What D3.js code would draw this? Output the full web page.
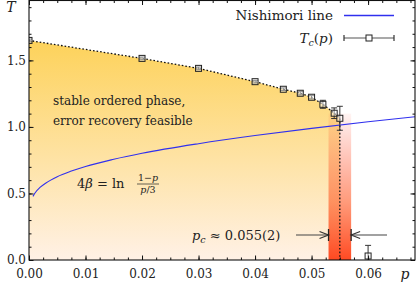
<!DOCTYPE html>
<html>
<head>
<meta charset="utf-8">
<script src="https://cdn.jsdelivr.net/npm/d3@7"></script>
<style>
  html, body { margin: 0; padding: 0; background: #fff; }
</style>
</head>
<body>
<svg id="chart" width="416" height="287"></svg>
<script>
// critical temperature T_c(p)
var pTc = [0, 0.02, 0.03, 0.04, 0.045, 0.048, 0.05, 0.052, 0.054, 0.055];
var Tc = [1.65, 1.515, 1.44, 1.34, 1.283, 1.253, 1.223, 1.17, 1.103, 1.065];
var TcErr = [0.01, 0.01, 0.01, 0.01, 0.01, 0.012, 0.012, 0.03, 0.04, 0.09];

// the lone point past p_c
var pOut = [0.06];
var TOut = [0.03];
var TOutErr = [0.08];

// Nishimori line samples
var pNish = [0.0007, 0.001, 0.002, 0.003, 0.005, 0.0075, 0.01, 0.015, 0.02, 0.03, 0.04, 0.05, 0.06, 0.0683];
var TNish = [0.478, 0.500, 0.547, 0.579, 0.626, 0.668, 0.703, 0.757, 0.802, 0.874, 0.935, 0.989, 1.039, 1.076];

// p_c band
var pcLow = 0.053, pc = 0.055, pcHigh = 0.057;

var xTicks = [0, 0.01, 0.02, 0.03, 0.04, 0.05, 0.06];
var yTicks = [0, 0.5, 1.0, 1.5];

var FONT = '"DejaVu Serif", serif';
var BLUE = '#3030ee';
var svg = d3.select('#chart');
var L = 29, R = 415, T0 = 0.5, B = 260;

var x = d3.scaleLinear().domain([0, 0.0683]).range([L, R]);
var y = d3.scaleLinear().domain([0, 1.95]).range([B, T0]);

var defs = svg.append('defs');
var gy = defs.append('linearGradient').attr('id', 'yel')
  .attr('gradientUnits', 'userSpaceOnUse')
  .attr('x1', 0).attr('y1', y(1.65)).attr('x2', 0).attr('y2', B);
gy.append('stop').attr('offset', 0).attr('stop-color', '#fdd25a');
gy.append('stop').attr('offset', 0.55).attr('stop-color', '#fee3a6');
gy.append('stop').attr('offset', 1).attr('stop-color', '#fff1e6');

var gr = defs.append('linearGradient').attr('id', 'red')
  .attr('gradientUnits', 'userSpaceOnUse')
  .attr('x1', 0).attr('y1', y(1.1)).attr('x2', 0).attr('y2', B);
gr.append('stop').attr('offset', 0).attr('stop-color', '#ff2a10').attr('stop-opacity', 0.05);
gr.append('stop').attr('offset', 0.6).attr('stop-color', '#ff4a10').attr('stop-opacity', 0.55);
gr.append('stop').attr('offset', 1).attr('stop-color', '#ff3a10').attr('stop-opacity', 0.92);

var clip = defs.append('clipPath').attr('id', 'plotclip');
clip.append('rect').attr('x', L).attr('y', T0).attr('width', R - L).attr('height', B - T0);

var plot = svg.append('g').attr('clip-path', 'url(#plotclip)');

// ordered phase area
var tcData = pTc.map(function(p, i) { return {p: p, t: Tc[i], e: TcErr[i]}; });
var area = d3.area()
  .x(function(d) { return x(d.p); })
  .y0(y(0))
  .y1(function(d) { return y(d.t); });
plot.append('path').datum(tcData).attr('d', area).attr('fill', 'url(#yel)');

// p_c band
plot.append('rect')
  .attr('x', x(pcLow)).attr('width', x(pcHigh) - x(pcLow))
  .attr('y', y(1.1)).attr('height', y(0) - y(1.1))
  .attr('fill', 'url(#red)');

// Nishimori line
var nish = pNish.map(function(p, i) { return {p: p, t: TNish[i]}; });
plot.append('path').datum(nish)
  .attr('d', d3.line().x(function(d) { return x(d.p); }).y(function(d) { return y(d.t); }).curve(d3.curveMonotoneX))
  .attr('fill', 'none').attr('stroke', BLUE).attr('stroke-width', 1.1);

// dotted boundary
var bound = tcData.concat([{p: pc, t: 0}]);
plot.append('path').datum(bound)
  .attr('d', d3.line().x(function(d) { return x(d.p); }).y(function(d) { return y(d.t); }))
  .attr('fill', 'none').attr('stroke', '#111').attr('stroke-width', 1.3)
  .attr('stroke-dasharray', '1.6,2');

// error bars + markers
function drawPoints(g, data) {
  var pts = g.selectAll(null).data(data).enter().append('g');
  pts.append('line')
    .attr('x1', function(d) { return x(d.p); }).attr('x2', function(d) { return x(d.p); })
    .attr('y1', function(d) { return y(d.t - d.e); }).attr('y2', function(d) { return y(d.t + d.e); })
    .attr('stroke', '#333').attr('stroke-width', 1);
  [-1, 1].forEach(function(s) {
    pts.append('line')
      .attr('x1', function(d) { return x(d.p) - 3; }).attr('x2', function(d) { return x(d.p) + 3; })
      .attr('y1', function(d) { return y(d.t + s * d.e); }).attr('y2', function(d) { return y(d.t + s * d.e); })
      .attr('stroke', '#333').attr('stroke-width', 1);
  });
  pts.append('rect')
    .attr('x', function(d) { return x(d.p) - 3; }).attr('y', function(d) { return y(d.t) - 3; })
    .attr('width', 6).attr('height', 6)
    .attr('fill', '#fff').attr('fill-opacity', 0.45)
    .attr('stroke', '#222').attr('stroke-width', 1);
}
drawPoints(plot, tcData);
drawPoints(plot, pOut.map(function(p, i) { return {p: p, t: TOut[i], e: TOutErr[i]}; }));

// axes, ticks inside on all four sides
var xMinor = d3.range(0, 0.0683, 0.0025);
var yMinor = d3.range(0, 1.95, 0.1);
function fmt2(d) { return d3.format('.2f')(d); }
function fmt1(d) { return d3.format('.1f')(d); }

function tickAxis(axisFn, scale, vals, size, pos, fmt) {
  var g = svg.append('g').attr('transform', pos)
    .call(axisFn(scale).tickValues(vals).tickSize(size).tickSizeOuter(0).tickPadding(6).tickFormat(fmt || ''));
  g.select('.domain').remove();
  g.selectAll('.tick line').attr('stroke', '#111');
  return g;
}
var xb = tickAxis(d3.axisBottom, x, xTicks, -4.5, 'translate(0,' + B + ')', fmt2);
tickAxis(d3.axisBottom, x, xMinor, -2.5, 'translate(0,' + B + ')');
tickAxis(d3.axisTop, x, xTicks, -4.5, 'translate(0,' + T0 + ')');
tickAxis(d3.axisTop, x, xMinor, -2.5, 'translate(0,' + T0 + ')');
var yl = tickAxis(d3.axisLeft, y, yTicks, -4.5, 'translate(' + L + ',0)', fmt1);
tickAxis(d3.axisLeft, y, yMinor, -2.5, 'translate(' + L + ',0)');
tickAxis(d3.axisRight, y, yTicks, -4.5, 'translate(' + R + ',0)');
tickAxis(d3.axisRight, y, yMinor, -2.5, 'translate(' + R + ',0)');

xb.selectAll('text').attr('font-size', 12).attr('dy', '0.75em').attr('y', 9);
yl.selectAll('text').attr('font-size', 12).attr('x', -3);

// frame
svg.append('rect').attr('x', L).attr('y', T0).attr('width', R - L).attr('height', B - T0)
  .attr('fill', 'none').attr('stroke', '#111').attr('stroke-width', 1.1);

// axis titles
svg.append('text').attr('x', 11).attr('y', 12).attr('text-anchor', 'middle')
  .attr('font-size', 14).attr('font-style', 'italic').text('T');
svg.append('text').attr('x', 405).attr('y', 279).attr('text-anchor', 'middle')
  .attr('font-size', 14).attr('font-style', 'italic').text('p');

// annotations
svg.append('text').attr('x', 53).attr('y', 105).attr('font-size', 12).text('stable ordered phase,');
svg.append('text').attr('x', 53).attr('y', 125).attr('font-size', 12).text('error recovery feasible');

var f = svg.append('text').attr('x', 77).attr('y', 188).attr('font-size', 13);
f.append('tspan').text('4');
f.append('tspan').attr('font-style', 'italic').text('β');
f.append('tspan').text(' = ln');
var num = svg.append('text').attr('x', 148).attr('y', 181).attr('font-size', 9.5).attr('text-anchor', 'middle');
num.append('tspan').text('1\u2212');
num.append('tspan').attr('font-style', 'italic').text('p');
svg.append('line').attr('x1', 137).attr('x2', 159).attr('y1', 184).attr('y2', 184)
  .attr('stroke', '#222').attr('stroke-width', 0.7);
var den = svg.append('text').attr('x', 148).attr('y', 193).attr('font-size', 9.5).attr('text-anchor', 'middle');
den.append('tspan').attr('font-style', 'italic').text('p');
den.append('tspan').text('/3');

var pct = svg.append('text').attr('x', 192).attr('y', 240).attr('font-size', 13);
pct.append('tspan').attr('font-style', 'italic').text('p');
pct.append('tspan').attr('font-style', 'italic').attr('font-size', 9.5).attr('dy', 3).text('c');
pct.append('tspan').attr('dy', -3).text(' \u2248 0.055(2)');

// arrows to the band
function arrow(x1, x2, yy) {
  var dir = x2 > x1 ? 1 : -1;
  svg.append('line').attr('x1', x1).attr('x2', x2).attr('y1', yy).attr('y2', yy)
    .attr('stroke', '#444').attr('stroke-width', 1.2);
  svg.append('path')
    .attr('d', 'M' + (x2 - dir * 9) + ',' + (yy - 3.5) + ' L' + x2 + ',' + yy + ' L' + (x2 - dir * 9) + ',' + (yy + 3.5))
    .attr('fill', 'none').attr('stroke', '#333').attr('stroke-width', 1.2);
  svg.append('line').attr('x1', x2).attr('x2', x2).attr('y1', yy - 6).attr('y2', yy + 6)
    .attr('stroke', '#222').attr('stroke-width', 1.3);
}
arrow(296, x(pcLow), 235);
arrow(387, x(pcHigh), 235);

// legend
svg.append('text').attr('x', 333).attr('y', 20).attr('text-anchor', 'end').attr('font-size', 13.5).text('Nishimori line');
svg.append('line').attr('x1', 344).attr('x2', 394).attr('y1', 15.5).attr('y2', 15.5)
  .attr('stroke', BLUE).attr('stroke-width', 1.3);
var lt = svg.append('text').attr('x', 333).attr('y', 43).attr('text-anchor', 'end').attr('font-size', 13.5);
lt.append('tspan').attr('font-style', 'italic').text('T');
lt.append('tspan').attr('font-style', 'italic').attr('font-size', 9.5).attr('dy', 3).text('c');
lt.append('tspan').attr('dy', -3).text('(');
lt.append('tspan').attr('font-style', 'italic').text('p');
lt.append('tspan').text(')');
svg.append('line').attr('x1', 344).attr('x2', 394).attr('y1', 38).attr('y2', 38)
  .attr('stroke', '#555').attr('stroke-width', 1.2);
[344, 394].forEach(function(xx) {
  svg.append('line').attr('x1', xx).attr('x2', xx).attr('y1', 35).attr('y2', 41)
    .attr('stroke', '#333').attr('stroke-width', 1.2);
});
svg.append('rect').attr('x', 366).attr('y', 35).attr('width', 6).attr('height', 6)
  .attr('fill', '#fff').attr('stroke', '#222').attr('stroke-width', 1);

// serif everywhere, like the LaTeX original
svg.selectAll('text').style('font-family', FONT).style('fill', '#222');
</script>
</body>
</html>
